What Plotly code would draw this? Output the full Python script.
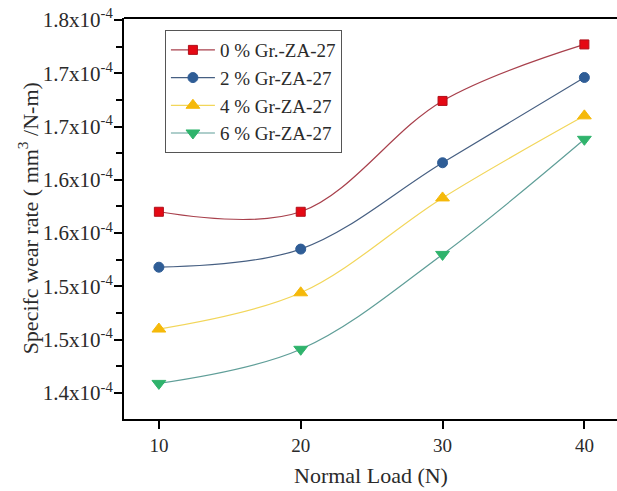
import plotly.graph_objects as go

loads = [10, 20, 30, 40]
series_names = ["0 % Gr.-ZA-27", "2 % Gr-ZA-27", "4 % Gr-ZA-27", "6 % Gr-ZA-27"]
wear_0 = [1.570e-4, 1.570e-4, 1.674e-4, 1.727e-4]
wear_2 = [1.518e-4, 1.535e-4, 1.616e-4, 1.696e-4]
wear_4 = [1.460e-4, 1.494e-4, 1.583e-4, 1.660e-4]
wear_6 = [1.409e-4, 1.441e-4, 1.530e-4, 1.638e-4]

ytick_vals = [1.40e-4, 1.45e-4, 1.50e-4, 1.55e-4, 1.60e-4, 1.65e-4, 1.70e-4, 1.75e-4]
ytick_text = ["1.4x10<sup>-4</sup>", "1.5x10<sup>-4</sup>", "1.5x10<sup>-4</sup>", "1.6x10<sup>-4</sup>",
              "1.6x10<sup>-4</sup>", "1.7x10<sup>-4</sup>", "1.7x10<sup>-4</sup>", "1.8x10<sup>-4</sup>"]
yminor_vals = [1.375e-4, 1.425e-4, 1.475e-4, 1.525e-4, 1.575e-4, 1.625e-4, 1.675e-4, 1.725e-4]
xtick_vals = [10, 20, 30, 40]
x_title = "Normal Load (N)"
y_title = "Specifc wear rate ( mm<sup>3</sup> /N-m)"

styles = [
    dict(line="#a8404c", marker="#e50914", edge="#b0101a", symbol="square", size=9),
    dict(line="#465f82", marker="#2f5d96", edge="#2f5d96", symbol="circle", size=10),
    dict(line="#f2d65a", marker="#f5b90a", edge="#f5b90a", symbol="triangle-up", size=12),
    dict(line="#5f9e98", marker="#2fb36c", edge="#2fb36c", symbol="triangle-down", size=12),
]
series = [wear_0, wear_2, wear_4, wear_6]

fig = go.Figure()
for name, vals, st in zip(series_names, series, styles):
    fig.add_trace(go.Scatter(
        x=loads, y=vals, name=name, mode="lines+markers",
        line=dict(color=st["line"], width=1.2, shape="spline", smoothing=1.0),
        marker=dict(symbol=st["symbol"], size=st["size"], color=st["marker"],
                    line=dict(color=st["edge"], width=1)),
    ))

font_family = "Liberation Serif, Times New Roman, serif"
text_color = "#2a2a2a"
fig.update_layout(
    width=617, height=491,
    margin=dict(l=124, r=0, t=18, b=72, pad=0),
    paper_bgcolor="white", plot_bgcolor="white",
    font=dict(family=font_family, color=text_color, size=19),
    showlegend=True,
    legend=dict(x=0.083, y=0.97, xanchor="left", yanchor="top",
                bordercolor="#555555", borderwidth=1, bgcolor="white",
                font=dict(size=19, family=font_family, color=text_color),
                itemwidth=44),
    xaxis=dict(range=[7.54, 42.3], tickmode="array", tickvals=xtick_vals,
               ticks="outside", ticklen=8, tickwidth=1.5, tickcolor="black",
               showline=True, linecolor="black", linewidth=2, mirror=False,
               showgrid=False, zeroline=False, automargin=False,
               tickfont=dict(size=19)),
    yaxis=dict(range=[1.3756e-4, 1.7518e-4], tickmode="array", tickvals=ytick_vals, ticktext=ytick_text,
               ticks="outside", ticklen=8, tickwidth=1.5, tickcolor="black",
               minor=dict(tickmode="array", tickvals=yminor_vals, ticks="outside", ticklen=6,
                          tickwidth=1.5, tickcolor="black", showgrid=False),
               showline=True, linecolor="black", linewidth=2, mirror=False,
               showgrid=False, zeroline=False, automargin=False,
               ticklabelstandoff=-3, ticklabeloverflow="allow",
               tickfont=dict(size=21)),
    shapes=[dict(type="line", xref="paper", yref="paper", x0=0, x1=1, y0=1, y1=1,
                 line=dict(color="black", width=2))],
    annotations=[
        dict(text=x_title, xref="paper", yref="paper", x=0.5, y=-0.142,
             xanchor="center", yanchor="middle", showarrow=False,
             font=dict(size=22, family=font_family, color=text_color)),
        dict(text=y_title, xref="paper", yref="paper", x=-0.195, y=0.5,
             xanchor="center", yanchor="middle", showarrow=False, textangle=-90,
             font=dict(size=22, family=font_family, color=text_color)),
    ],
)

fig.write_html("out.html", config={"displayModeBar": False},
               post_script="document.body.style.margin='0px';")
